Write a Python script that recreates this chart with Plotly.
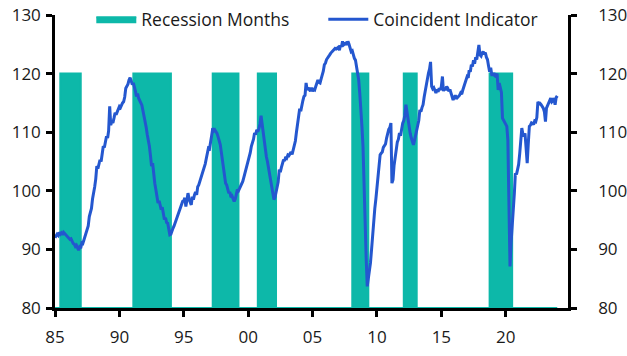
import plotly.graph_objects as go
import pandas as pd

# ---------------- data ----------------
start_month = "1985-01-01"

coincident = [
    # 1985
    92.0, 92.3, 92.6, 92.4, 92.9, 92.6, 92.8, 92.5, 92.9, 92.7, 92.5, 92.3,
    # 1986
    92.2, 91.9, 91.7, 91.8, 91.3, 91.0, 90.9, 90.5, 90.7, 90.1, 89.85, 90.4,
    # 1987
    90.2, 91.1, 91.0, 91.6, 92.1, 92.8, 93.3, 94.0, 95.6, 96.2, 97.0, 98.6,
    # 1988
    99.5, 100.7, 102.0, 104.2, 103.8, 104.6, 105.3, 105.0, 106.3, 107.6, 107.4, 108.3,
    # 1989
    109.3, 109.0, 110.2, 114.4, 111.2, 111.8, 111.6, 112.4, 113.3, 113.0, 113.6, 114.1,
    # 1990
    114.4, 114.2, 114.7, 115.0, 115.2, 116.0, 117.5, 117.8, 118.2, 118.9, 119.3, 118.8,
    # 1991
    118.1, 118.4, 117.4, 117.0, 116.1, 116.6, 115.8, 115.5, 115.0, 114.6, 113.7, 112.8,
    # 1992
    112.1, 110.8, 109.6, 108.7, 107.6, 106.0, 104.2, 104.7, 102.6, 101.3, 100.2, 98.9,
    # 1993
    97.9, 98.3, 97.5, 96.8, 97.2, 95.9, 95.1, 95.4, 94.6, 94.5, 93.2, 92.5,
    # 1994
    92.6, 93.4, 93.6, 94.0, 94.5, 94.9, 95.5, 96.2, 96.8, 97.0, 97.6, 98.2,
    # 1995
    98.3, 98.8, 97.3, 99.0, 99.6, 98.6, 98.2, 97.6, 99.0, 98.5, 99.3, 99.8,
    # 1996
    99.3, 100.7, 101.0, 101.6, 102.4, 102.6, 103.3, 104.0, 104.6, 105.5, 106.4, 107.3,
    # 1997
    107.2, 108.1, 109.4, 110.7, 110.2, 110.4, 110.1, 109.8, 109.2, 108.7, 107.9, 106.6,
    # 1998
    105.3, 104.1, 103.0, 101.3, 101.0, 100.4, 99.6, 99.8, 98.9, 99.1, 98.4, 98.2,
    # 1999
    98.6, 99.3, 100.2, 100.0, 100.4, 100.5, 101.0, 101.6, 102.3, 103.0, 103.6, 104.2,
    # 2000
    104.8, 105.7, 106.5, 107.6, 108.2, 108.8, 109.85, 109.6, 110.4, 110.1, 110.6, 111.4,
    # 2001
    112.8, 111.4, 110.0, 108.5, 106.4, 105.8, 105.0, 104.0, 103.0, 101.8, 100.6, 99.6,
    # 2002
    98.5, 98.9, 99.8, 100.75, 101.5, 103.6, 103.2, 104.0, 104.6, 105.3, 105.1, 105.8,
    # 2003
    105.6, 106.1, 106.0, 106.4, 106.6, 106.2, 107.0, 107.6, 108.5, 110.0, 111.5, 112.3,
    # 2004
    114.0, 113.6, 114.9, 115.4, 116.1, 116.3, 118.4, 117.2, 117.6, 117.2, 117.0, 117.6,
    # 2005
    117.0, 117.3, 117.2, 117.8, 118.3, 118.9, 118.5, 118.4, 119.1, 119.6, 120.4, 121.5,
    # 2006
    121.8, 122.4, 122.6, 123.0, 123.2, 123.5, 123.7, 124.0, 124.1, 124.3, 124.2, 124.3,
    # 2007
    124.5, 124.0, 124.8, 124.6, 125.5, 124.9, 125.0, 125.2, 124.9, 125.5, 125.0, 124.5,
    # 2008
    123.75, 123.9, 123.0, 122.6, 122.3, 121.0, 119.9, 118.9, 116.6, 114.4, 111.0, 107.6,
    # 2009
    99.0, 93.0, 88.5, 83.7, 84.8, 86.5, 87.7, 90.0, 92.5, 95.6, 97.0, 98.6,
    # 2010
    100.75, 102.4, 104.5, 106.15, 106.4, 106.6, 107.4, 107.85, 108.0, 109.0, 110.1, 110.5,
    # 2011
    110.8, 111.55, 101.3, 101.9, 104.3, 105.9, 107.4, 108.3, 108.8, 109.85, 109.4, 110.6,
    # 2012
    111.55, 112.0, 112.9, 114.7, 113.5, 112.3, 110.4, 109.8, 109.0, 108.2, 107.85, 108.6,
    # 2013
    109.4, 110.4, 111.0, 112.0, 113.8, 113.5, 114.2, 114.7, 116.0, 117.2, 118.4, 118.9,
    # 2014
    120.1, 120.8, 122.0, 117.8, 117.4, 117.6, 117.0, 116.7, 117.3, 116.9, 117.5, 117.2,
    # 2015
    117.8, 119.5, 117.0, 117.6, 117.2, 117.8, 117.5, 117.0, 117.3, 116.6, 116.0, 115.5,
    # 2016
    115.9, 116.3, 115.7, 115.9, 116.0, 116.3, 116.7, 116.5, 117.2, 117.8, 118.4, 118.9,
    # 2017
    119.5, 119.3, 120.6, 120.3, 121.5, 121.2, 122.3, 121.7, 122.8, 122.4, 123.4, 124.9,
    # 2018
    123.2, 123.0, 123.5, 123.75, 123.3, 123.6, 122.8, 122.4, 121.3, 120.3, 121.0, 119.8,
    # 2019
    119.8, 120.1, 119.6, 119.5, 120.0, 117.2, 118.4, 117.8, 116.8, 112.4, 112.0, 111.6,
    # 2020
    111.3, 111.0, 108.7, 99.0, 87.1, 91.1, 93.5, 96.2, 99.5, 103.0, 102.8, 103.6,
    # 2021
    104.5, 106.4, 108.5, 110.7, 109.7, 109.3, 109.8, 106.5, 104.7, 108.0, 111.0, 111.2,
    # 2022
    111.6, 111.5, 111.3, 111.9, 111.8, 112.5, 115.2, 114.8, 114.9, 114.7, 114.4, 114.1,
    # 2023
    113.5, 111.8, 114.1, 114.5, 115.0, 115.2, 115.8, 115.2, 115.4, 115.8, 114.7, 115.9,
    # 2024
    116.2,
]

rec_start = ["1985-06", "1991-02", "1997-04", "2000-10", "2008-02", "2012-02", "2018-10"]
rec_end = ["1986-12", "1993-12", "1999-03", "2002-02", "2009-04", "2013-01", "2020-06"]
rec_high = 120
rec_low = 80

tick_years = ["1985", "1990", "1995", "2000", "2005", "2010", "2015", "2020"]
tick_text = ["85", "90", "95", "00", "05", "10", "15", "20"]
y_ticks = [80, 90, 100, 110, 120, 130]

# ---------------- build ----------------
dates = pd.date_range(start_month, periods=len(coincident), freq="MS")
rec = []
for d in dates:
    inside = any(pd.Timestamp(s) <= d <= pd.Timestamp(e) for s, e in zip(rec_start, rec_end))
    rec.append(rec_high if inside else rec_low)

teal = "#0DB8A9"
blue = "#2457CF"
tick_font = dict(family="Open Sans, Noto Sans, sans-serif", size=17, color="#1a1a1a")
legend_font = dict(family="Open Sans, Noto Sans, sans-serif", size=17.5, color="#1a1a1a")

fig = go.Figure()
fig.add_trace(go.Scatter(
    x=dates, y=rec, name="Recession Months", mode="lines",
    line=dict(shape="hv", color=teal, width=2), fill="tozeroy", fillcolor=teal,
    yaxis="y", hoverinfo="skip",
))
fig.add_trace(go.Scatter(
    x=dates, y=coincident, name="Coincident Indicator", mode="lines",
    line=dict(color=blue, width=3), yaxis="y2",
))

axis_common = dict(
    range=[80, 130], tickvals=y_ticks, showgrid=False, zeroline=False,
    showline=True, linecolor="black", linewidth=2.5, automargin=False,
    ticks="outside", ticklen=6, tickwidth=2.5, tickcolor="black", tickfont=tick_font,
)
fig.update_layout(
    width=627, height=356,
    margin=dict(l=55, r=59, t=15, b=48, autoexpand=False),
    paper_bgcolor="white", plot_bgcolor="white",
    font=tick_font,
    showlegend=True,
    legend=dict(orientation="h", x=0.523, xanchor="center", y=0.985, yanchor="middle",
                bgcolor="rgba(0,0,0,0)", font=legend_font, itemwidth=40,
                entrywidth=177, traceorder="normal"),
    xaxis=dict(
        type="date", range=["1985-01-01", "2024-11-01"],
        tickvals=[pd.Timestamp(y) for y in tick_years], ticktext=tick_text,
        showgrid=False, zeroline=False, showline=True, linecolor="black", linewidth=2.5,
        automargin=False, ticklabelstandoff=6,
        ticks="outside", ticklen=6, tickwidth=2.5, tickcolor="black", tickfont=tick_font,
    ),
    yaxis=dict(side="left", ticklabelstandoff=2, **axis_common),
    yaxis2=dict(side="right", overlaying="y", ticklabelstandoff=18, **axis_common),
)

# remove the browser's default 8px page margin so the figure sits at the window's corner
fig.write_html("out.html", config={"displayModeBar": False},
               post_script="document.body.style.margin='0';")
